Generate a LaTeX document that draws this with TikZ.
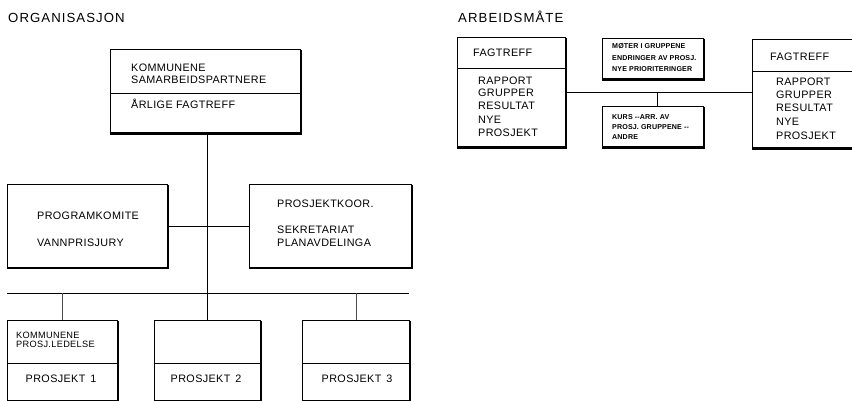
\documentclass[tikz,border=0pt]{standalone}
\usepackage{fontspec}
\setmainfont{Liberation Sans}
\newfontfamily\lab[LetterSpace=3.5]{Liberation Sans}
\newfontfamily\ttl[LetterSpace=8]{Liberation Sans}
\newfontfamily\smb[LetterSpace=2]{Liberation Sans}
\tikzset{
  box/.style={draw, line width=0.8pt, rectangle, inner sep=0pt, anchor=north west},
  shadeln/.style={line width=2.6pt},
  divline/.style={line width=0.8pt},
  conn/.style={line width=0.7pt},
  drop/.style={line width=0.6pt, black!70},
  txt/.style={anchor=west, inner sep=0pt, font=\lab\fontsize{10.8}{12}\selectfont},
  ctxt/.style={anchor=center, inner sep=0pt, font=\lab\fontsize{10.8}{12}\selectfont},
  sm/.style={anchor=west, inner sep=0pt, font=\lab\fontsize{9.2}{10}\selectfont},
  stxt/.style={anchor=west, inner sep=0pt, font=\smb\bfseries\fontsize{7.1}{9}\selectfont},
  title/.style={anchor=west, inner sep=0pt, font=\ttl\fontsize{13.2}{15}\selectfont},
}
\newcommand\mkbox[5]{%
  \node[box, minimum width={(#4-#2)*1pt}, minimum height={(#5-#3)*1pt}] (#1) at (#2,#3) {};
  \draw[shadeln] ([yshift=-1pt]#1.north east) -- (#1.south east) -- (#1.south west);
}
\begin{document}
\begin{tikzpicture}[x=1pt,y=-1pt]
\clip (0,0) rectangle (852,401);
\fill[white] (0,0) rectangle (852,401);

% ---------- titles
\node[title] (tOrg) at (8,17.5) {ORGANISASJON};
\node[title] (tArb) at (458,17) {ARBEIDSMÅTE};

% ---------- ORGANISASJON
\mkbox{top}{110}{49}{300}{133}
\draw[divline] (top.west |- 0,93) -- (top.east |- 0,93);
\node[txt] (a1) at (131,67.5) {KOMMUNENE};
\node[txt] (a2) at (131,80) {SAMARBEIDSPARTNERE};
\node[txt] (a3) at (131,104) {ÅRLIGE FAGTREFF};

\mkbox{prog}{7}{184}{167}{267}
\node[txt] (b1) at (37,216) {PROGRAMKOMITE};
\node[txt] (b2) at (37,243) {VANNPRISJURY};

\mkbox{koor}{249}{184}{411}{267}
\node[txt] (c1) at (277,203.5) {PROSJEKTKOOR.};
\node[txt] (c2) at (277,230) {SEKRETARIAT};
\node[txt] (c3) at (277,243) {PLANAVDELINGA};

\mkbox{p1}{7}{320}{117}{400}
\draw[divline] (p1.west |- 0,363) -- (p1.east |- 0,363);
\node[sm] (d1) at (16,335) {KOMMUNENE};
\node[sm] (d2) at (16,344) {PROSJ.LEDELSE};
\node[ctxt] (d3) at (61,379) {PROSJEKT\hspace{0.45em}1};

\mkbox{p2}{154}{320}{260}{400}
\draw[divline] (p2.west |- 0,363) -- (p2.east |- 0,363);
\node[ctxt] (e1) at (206,379) {PROSJEKT\hspace{0.45em}2};

\mkbox{p3}{302}{320}{409}{400}
\draw[divline] (p3.west |- 0,363) -- (p3.east |- 0,363);
\node[ctxt] (g1) at (357,379) {PROSJEKT\hspace{0.45em}3};

% connectors
\draw[conn] (p2.north |- top.south) -- (p2.north);
\draw[conn] (prog.east) -- (koor.west);
\coordinate (busL) at (7,293);
\coordinate (busR) at (409,293);
\draw[conn] (busL) -- (busR);
\draw[drop] (p1.north |- busL) -- (p1.north);
\draw[drop] (p3.north |- busL) -- (p3.north);

% ---------- ARBEIDSMÅTE
\mkbox{f1}{457}{37}{565}{147}
\draw[divline] (f1.west |- 0,68) -- (f1.east |- 0,68);
\node[txt] (h0) at (473,53) {FAGTREFF};
\node[txt] (h1) at (478,80.5) {RAPPORT};
\node[txt] (h2) at (478,93) {GRUPPER};
\node[txt] (h3) at (478,106) {RESULTAT};
\node[txt] (h4) at (478,119.5) {NYE};
\node[txt] (h5) at (478,133) {PROSJEKT};

\mkbox{m1}{602}{38}{703}{79}
\node[stxt] (i1) at (612,46.5) {MØTER I GRUPPENE};
\node[stxt] (i2) at (612,58.5) {ENDRINGER AV PROSJ.};
\node[stxt] (i3) at (612,69.5) {NYE PRIORITERINGER};

\mkbox{m2}{602}{106}{703}{147}
\node[stxt] (j1) at (612,117) {KURS --ARR. AV};
\node[stxt] (j2) at (612,127) {PROSJ. GRUPPENE --};
\node[stxt] (j3) at (612,137.5) {ANDRE};

\mkbox{f2}{752}{39}{870}{148}
\draw[divline] (f2.west |- 0,71) -- (f2.east |- 0,71);
\node[txt] (k0) at (770,56.5) {FAGTREFF};
\node[txt] (k1) at (776,81.5) {RAPPORT};
\node[txt] (k2) at (776,95) {GRUPPER};
\node[txt] (k3) at (776,108) {RESULTAT};
\node[txt] (k4) at (776,121.5) {NYE};
\node[txt] (k5) at (776,136) {PROSJEKT};

\draw[conn] (f1.east) -- (f1.east -| f2.west);
\coordinate (mj) at ([xshift=4.5pt]m2.north |- f1.east);
\draw[conn] (mj) -- ([xshift=4.5pt]m2.north);
\end{tikzpicture}
\end{document}
